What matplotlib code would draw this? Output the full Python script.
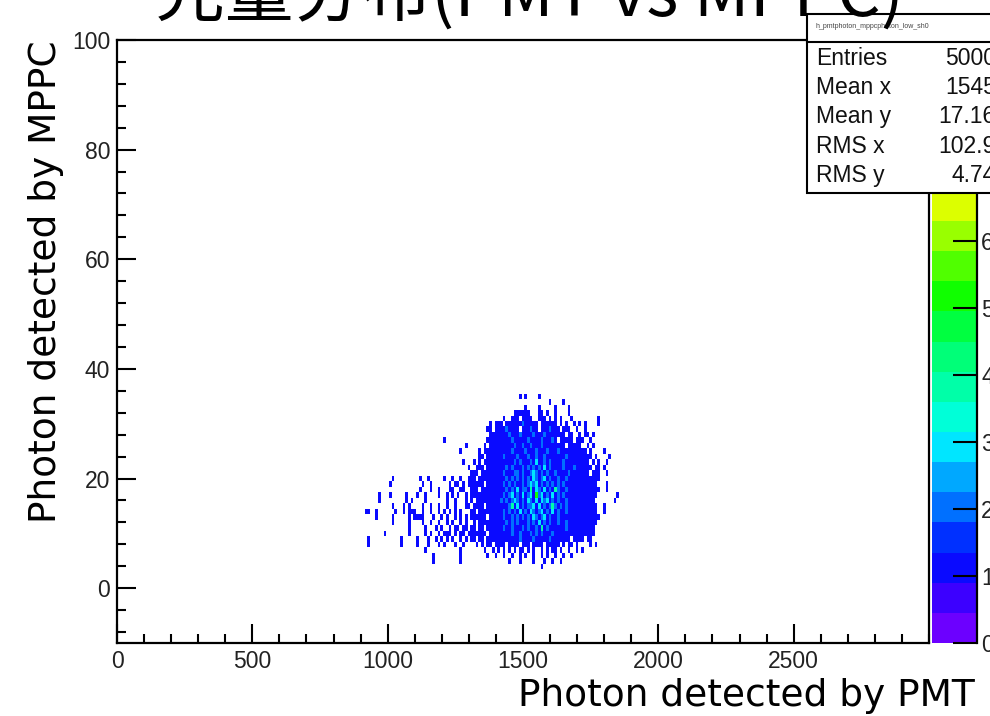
import numpy as np
import matplotlib
matplotlib.use("Agg")
import matplotlib.pyplot as plt
from matplotlib.colors import ListedColormap, BoundaryNorm
from matplotlib.ticker import FixedLocator, MultipleLocator
from matplotlib.patches import Rectangle
from matplotlib.lines import Line2D

# ---------------- data ----------------
title = "光量分布(PMT vs MPPC)"
x_title = "Photon detected by PMT"
y_title = "Photon detected by MPPC"
hist_name = "h_pmtphoton_mppcphoton_low_sh0"
stat_names = ["Entries", "Mean x", "Mean y", "RMS x", "RMS y"]
stat_values = ["5000", "1545", "17.16", "102.9", "4.74"]

x_range = [0, 3000]
y_range = [-10, 100]
x_ticks = [0, 500, 1000, 1500, 2000, 2500]
y_ticks = [0, 20, 40, 60, 80, 100]
z_range = [0, 9]
z_ticks = [0, 1, 2, 3, 4, 5, 6, 7, 8]

# 2D histogram: PMT bins of 10 photons starting at 920 (bin centres),
# one row per MPPC photon count; '.' = empty bin, digits = bin content
pmt_first_bin = 920
pmt_bin_width = 10
mppc_row_values = [35, 34, 33, 32, 31, 30, 29, 28, 27, 26, 25, 24, 23, 22, 21,
                   20, 19, 18, 17, 16, 15, 14, 13, 12, 11, 10, 9, 8, 7, 6, 5, 4]
mppc_rows = [
    ".......... .......... .......... .......... .......... .......1.1 ....1..... .......... .......... ......",
    ".......... .......... .......... .......... .......... .......... ........1. ...1...... .......... ......",
    ".......... .......... .......... .......... .......... .........1 ....1..... 1....1.... .......... ......",
    ".......... .......... .......... .......... .......... .....11111 1...11.1.. 1....1.... .......... ......",
    ".......... .......... .......... .......... .......... .1..111.11 11..111.1. 1.1...1... ......1... ......",
    ".......... .......... .......... .......... ......1.11 1.11111121 1111.11111 1.1.1..1.1 .1....1... ......",
    ".......... .......... .......... .......... .....11.11 1121111.11 1211.11121 11.111..1. .1........ ......",
    ".......... .......... .......... .......... ......1111 1112111211 1121112111 1111.11..1 .11.1..... ......",
    ".......... .......... .........1 .......... .....11111 1111211111 2111121112 1.11111.11 1..1...... ......",
    ".......... .......... .......... .......1.. ....1.1111 1111121121 1211121111 1111.11111 ..1.1..... ......",
    ".......... .......... .......... .....1.... ..1.111111 1111211112 1112111211 1211111111 11.1....1. ......",
    ".......... .......... .......... .......... ..11.11111 1211112111 2112112111 1111211111 1111.1.... 1.....",
    ".......... .......... .......... ......1... 1.1.111111 1111121211 1213112121 1112111111 111.1.1..1 ......",
    ".......... .......... .......... ........1. .111.11111 1121211121 2121213121 1112111211 1111.11.1. ......",
    ".......... .......... .......... .........1 11.1111111 1211122121 1232121211 2111121111 111.111..1 ......",
    ".......... 1......... 1..1.....1 ..1..1..11 1.11111111 1121212121 2132123121 1211211111 1111111... ......",
    ".........1 .......... .1..1..... .1.11.1.11 1111.11111 1212121121 2323121212 1212111111 111111...1 ......",
    ".......... .......... 1...1..1.. .11..11..1 11.1111111 1121213122 1413213121 4211211111 1111111..1 ......",
    ".....1...1 .....1...1 ..1....1.. 1.1.1..1.1 1111111111 1212312131 2315231213 1212111111 111111.... ...1..",
    ".....1.... .....1.1.. ..1....... 1..1...1.1 .111111111 2121232121 3213132312 1211211111 11111..... ..1...",
    ".......... 1...1.1... .1..1..1.. 1..1...11. 1111.11111 1112413121 2231312124 2121211111 111111..1. ......",
    "11..1..... .1..1.111. .1..1..1.1 .1.1.1...1 1.11111111 1212121312 1321231213 1211211111 111111..1. ......",
    "....1..... 1.....1.11 11...1..1. 1..1.1.1.1 11111.1111 1211212121 2132123121 1211111111 1111111... ......",
    ".......... 1.....1... .1..1..1.. 1.1..1.1.. 1.11111111 1121212111 2121312121 1211211111 111111.... ......",
    ".......... ......1... ..1...1.1. .1.11.11.1 1.11.11111 1211211121 2112141211 1111211111 11111..... ......",
    ".......1.. ......1... ..1.1..1.1 11.1.11.11 11111.1111 1111211211 1212121112 1111111111 11111..... ......",
    ".1........ ...1.....1 ...1..1.1. 1.1..1.1.1 1.11.11111 1111111211 1121111121 111111.111 1.11...... ......",
    ".1........ ...1.....1 ...1...1.1 ...1..1... .1.1.11.11 11.1111.11 1.1111.111 11.1.11.1. ...1.1.... ......",
    ".......... .......... ..1....... .....1.... ....1..1.1 .1.1.1.11. 1.1..1.1.1 1.1..1..1. 1......... ......",
    ".......... .......... .....1.... .....1.... .....1..1. .1..1..1.1 ..1..1.1.. 1..1..1... .......... ......",
    ".......... .......... .....1.... .....1.... .......... ...1...1.. ..1...1..1 ..1....... .......... ......",
    ".......... .......... .......... .......... .......... .......... .....1.... .......... .......... ......",
]

# ROOT-like rainbow palette (20 contour levels)
palette = ["#6c00ff", "#3c00ff", "#0a0aff", "#0030ff", "#0070ff",
           "#00a8ff", "#00e6ff", "#00ffd8", "#00ffa8", "#00ff78",
           "#00ff40", "#10ff00", "#50ff00", "#99ff00", "#dcff00",
           "#ffff00", "#ffc000", "#ff8000", "#ff4000", "#ff0000"]

# ---------------- figure ----------------
W, H = 990, 716
fig = plt.figure(figsize=(W / 100, H / 100), dpi=100)
fig.patch.set_facecolor("white")


def fx(px):
    return px / W


def fy(py):
    return 1 - py / H


label_font = "Liberation Sans"
cjk_font = ["Noto Sans CJK JP", "DejaVu Sans"]
axis_title_font = ["DejaVu Sans"]

ax = fig.add_axes([fx(117), fy(643), fx(929) - fx(117), fy(40) - fy(643)])

cells = [row.replace(" ", "") for row in mppc_rows]
ncols = max(len(r) for r in cells)
grid = np.array([[0 if c == "." else int(c) for c in r.ljust(ncols, ".")] for r in cells])
yv = np.array(mppc_row_values, dtype=float)
order = np.argsort(yv)
grid = grid[order]
yv = yv[order]
x_edges = pmt_first_bin - pmt_bin_width / 2 + pmt_bin_width * np.arange(ncols + 1)
y_edges = np.concatenate([yv - 0.5, [yv[-1] + 0.5]])

cmap = ListedColormap(palette)
levels = np.linspace(z_range[0], z_range[1], len(palette) + 1)
norm = BoundaryNorm(levels, cmap.N)
ax.pcolormesh(x_edges, y_edges, np.ma.masked_equal(grid, 0), cmap=cmap, norm=norm,
              edgecolors="none", antialiased=False, zorder=1)

ax.set_xlim(*x_range)
ax.set_ylim(*y_range)
ax.xaxis.set_major_locator(FixedLocator(x_ticks))
ax.xaxis.set_minor_locator(MultipleLocator(100))
ax.yaxis.set_major_locator(FixedLocator(y_ticks))
ax.yaxis.set_minor_locator(MultipleLocator(4))
ax.tick_params(which="both", direction="in", top=False, right=False, width=1.5,
               color="black", labelcolor="#222222", labelsize=16.5)
ax.tick_params(which="major", length=13.5, pad=5)
ax.tick_params(which="minor", length=6.5)
for lab in ax.get_xticklabels() + ax.get_yticklabels():
    lab.set_fontfamily(label_font)
for s in ax.spines.values():
    s.set_linewidth(1.6)
    s.set_color("black")

# palette (colour bar)
cax = fig.add_axes([fx(932), fy(643), fx(977) - fx(932), fy(40) - fy(643)])
zz = np.array([levels[:-1] + 1e-6]).T
cax.pcolormesh([0, 1], levels, zz, cmap=cmap, norm=norm, edgecolors="none", antialiased=False)
cax.set_xlim(0, 1)
cax.set_ylim(*z_range)
cax.set_xticks([])
cax.yaxis.tick_right()
cax.yaxis.set_major_locator(FixedLocator(z_ticks))
cax.tick_params(axis="y", direction="in", length=17, width=1.5, pad=3,
                labelsize=16.5, labelcolor="#222222")
for lab in cax.get_yticklabels():
    lab.set_fontfamily(label_font)
for k in ["left", "top", "bottom"]:
    cax.spines[k].set_visible(False)
cax.spines["right"].set_linewidth(1.6)

# axis titles
fig.text(fx(975), fy(706), x_title, ha="right", va="baseline", fontsize=27,
         family=axis_title_font, color="black")
fig.text(fx(56), fy(282), y_title, ha="center", va="baseline", rotation=90,
         rotation_mode="anchor", fontsize=27, family=axis_title_font, color="black")

# title (partly outside the picture), drawn over the stats box edge
fig.text(fx(530), fy(16), title, ha="center", va="baseline", fontsize=49.5,
         family=cjk_font, color="black", zorder=15)

# statistics box
box = Rectangle((fx(807), fy(193)), fx(1005) - fx(807), fy(13.5) - fy(193),
                transform=fig.transFigure, facecolor="white", edgecolor="black",
                lw=1.5, zorder=10)
fig.add_artist(box)
fig.add_artist(Line2D([fx(807), fx(1005)], [fy(42), fy(42)], transform=fig.transFigure,
                      color="black", lw=1.5, zorder=11))
fig.text(fx(815), fy(28), hist_name, ha="left", va="baseline", fontsize=5,
         family=label_font, color="#444444", zorder=12)
base = [65, 94, 123, 153, 182]
for name, val, b in zip(stat_names, stat_values, base):
    fig.text(fx(816), fy(b), name, ha="left", va="baseline", fontsize=16.5,
             family=label_font, color="#111111", zorder=12)
    fig.text(fx(996), fy(b), val, ha="right", va="baseline", fontsize=16.5,
             family=label_font, color="#111111", zorder=12)

fig.savefig("out.png", dpi=100)
